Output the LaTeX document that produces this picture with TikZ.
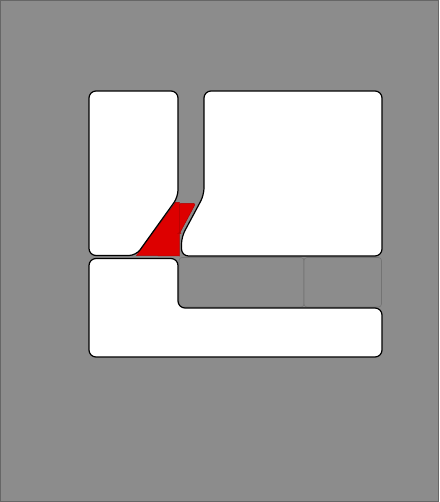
\documentclass[tikz,border=0pt]{standalone}
\begin{document}
\begin{tikzpicture}[x=1pt,y=-1pt,
  boxfill/.style={fill=white,rounded corners=7pt},
  boxline/.style={draw=black,line width=1.2pt,rounded corners=7pt},
  cell/.style={draw=black!55,fill=bggray,line width=0.6pt,rounded corners=3pt},
  redpart/.style={fill=myred,draw=myred!80!black,line width=0.5pt}]
\definecolor{bggray}{HTML}{8C8C8C}
\definecolor{myred}{HTML}{DD0000}
\def\leftbox{(110,255.5) -- (89,255.5) -- (89,91) -- (178,91) -- (178,197) -- (136,255.5) -- cycle}
\def\rightbox{(290,91) -- (382,91) -- (382,256) -- (181.5,256) -- (181.5,237) -- (204,195) -- (204,91) -- cycle}
\def\lbox{(130,357) -- (89,357) -- (89,258.5) -- (178,258.5) -- (178,308) -- (382,308) -- (382,357) -- cycle}
\useasboundingbox (0,0) rectangle (439,502);
\fill[bggray] (0,0) rectangle (439,502);
\draw[black!60,line width=0.8pt] (0.4,0.4) rectangle (438.6,501.6);
% gray cells
\draw[cell] (179,257.5) rectangle (304,307);
\draw[cell] (304,257.5) rectangle (381.5,307);
% box fills
\path[boxfill] \leftbox;
\path[boxfill] \rightbox;
\path[boxfill] \lbox;
% red parts
\draw[redpart] (136.5,255.5) -- (175.5,202.5) -- (179.3,202.5) -- (179.3,256) -- cycle;
\draw[redpart,rounded corners=1.5pt] (179.3,203.5) -- (195.5,203.5) -- (179.6,233.3) -- (179.3,233.3) -- cycle;
% box outlines
\path[boxline] \leftbox;
\path[boxline] \rightbox;
\path[boxline] \lbox;
\end{tikzpicture}
\end{document}
